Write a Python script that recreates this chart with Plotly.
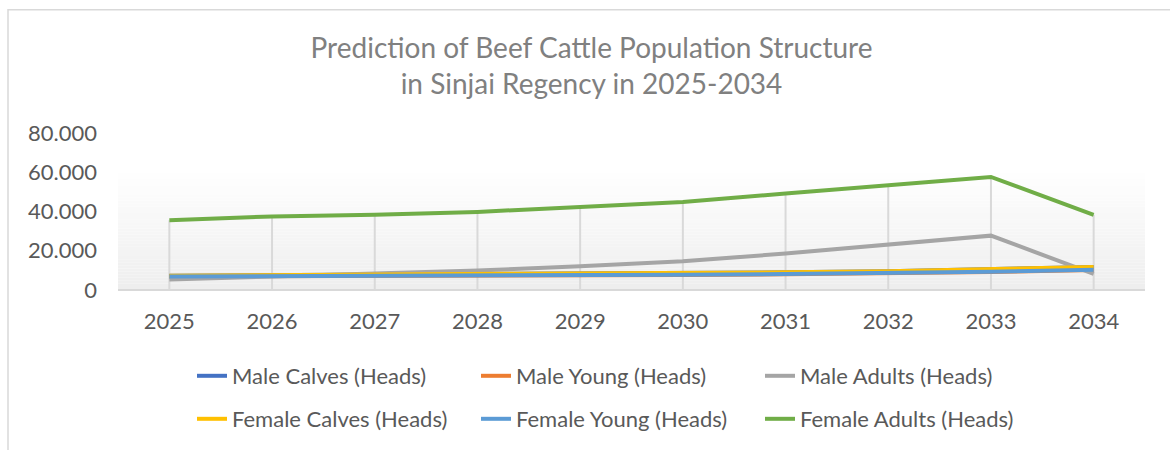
import plotly.graph_objects as go

years = ["2025", "2026", "2027", "2028", "2029", "2030", "2031", "2032", "2033", "2034"]
male_calves = [7300, 7500, 7800, 8000, 8200, 8600, 9000, 9600, 10500, 11700]
male_young = [6800, 6900, 7000, 7200, 7400, 7700, 8000, 8500, 9200, 10200]
male_adults = [5300, 6900, 8200, 9900, 12100, 14600, 18600, 23200, 27700, 8200]
female_calves = [7300, 7500, 7800, 8000, 8200, 8600, 9000, 9600, 10500, 11700]
female_young = [6900, 7000, 7100, 7300, 7500, 7800, 8100, 8600, 9300, 10300]
female_adults = [35500, 37500, 38400, 39800, 42300, 44900, 49200, 53500, 57600, 38300]

series = [
    ("Male Calves (Heads)", male_calves, "#4472C4", "legend"),
    ("Male Young (Heads)", male_young, "#ED7D31", "legend"),
    ("Male Adults (Heads)", male_adults, "#A5A5A5", "legend"),
    ("Female Calves (Heads)", female_calves, "#FFC000", "legend2"),
    ("Female Young (Heads)", female_young, "#5B9BD5", "legend2"),
    ("Female Adults (Heads)", female_adults, "#70AD47", "legend2"),
]

W, H = 1170, 450
ML, MR, MT, MB = 118, 25, 133, 159
PW = W - ML - MR
PH = H - MT - MB


def px_x(x):
    return (x - ML) / PW


def px_y(y):
    return (H - MB - y) / PH


FONT = "Lato"
fig = go.Figure()

# drop lines from highest point to the category axis
all_vals = [s[1] for s in series]
dx, dy = [], []
for i, yr in enumerate(years):
    top = max(v[i] for v in all_vals)
    dx += [yr, yr, None]
    dy += [0, top, None]
fig.add_trace(go.Scatter(x=dx, y=dy, mode="lines", line=dict(color="#D9D9D9", width=2),
                         showlegend=False, hoverinfo="skip"))

for name, vals, color, lg in series:
    fig.add_trace(go.Scatter(x=years, y=vals, name=name, mode="lines",
                             line=dict(color=color, width=4), legend=lg))

shapes = []
# gradient wall
n = 40
top_p = px_y(167)
for k in range(n):
    y0 = top_p * k / n
    y1 = top_p * (k + 1) / n
    t = k / (n - 1)
    c = int(round(0xEE + (0xFF - 0xEE) * t))
    col = f"rgb({c},{c},{c})"
    shapes.append(dict(type="rect", xref="paper", yref="paper", x0=0, x1=1, y0=y0, y1=y1,
                       fillcolor=col, line=dict(width=0), layer="below"))
# floor line
shapes.append(dict(type="line", xref="paper", yref="paper", x0=0, x1=1, y0=0, y1=0,
                   line=dict(color="#D9D9D9", width=2), layer="below"))
# chart border
shapes.append(dict(type="rect", xref="paper", yref="paper", x0=px_x(8), x1=px_x(1200),
                   y0=px_y(470), y1=px_y(9), line=dict(color="#D9D9D9", width=1.5),
                   fillcolor="rgba(0,0,0,0)", layer="below"))

leg_common = dict(orientation="h", xanchor="left", yanchor="middle",
                  entrywidth=239, entrywidthmode="pixels",
                  font=dict(size=22, color="#595959"), bgcolor="rgba(0,0,0,0)")

fig.update_layout(
    width=W, height=H,
    margin=dict(l=ML, r=MR, t=MT, b=MB),
    paper_bgcolor="white", plot_bgcolor="rgba(0,0,0,0)",
    separators=",.",
    font=dict(family=FONT, color="#595959"),
    title=dict(text="Prediction of Beef Cattle Population Structure<br>in Sinjai Regency in 2025-2034",
               x=591.5 / W, xanchor="center", y=1 - 58 / H, yanchor="middle",
               font=dict(family=FONT, size=28, color="#808080")),
    xaxis=dict(type="category", range=[-0.5, 9.5], showgrid=False, showline=False,
               zeroline=False, ticks="", ticklabelstandoff=16,
               tickfont=dict(size=22, color="#595959")),
    yaxis=dict(range=[0, 80000], tickvals=[0, 20000, 40000, 60000, 80000],
               tickformat=",.0f", showgrid=False, zeroline=False, showline=False,
               ticks="", ticklabelstandoff=20, tickfont=dict(size=22, color="#595959")),
    legend=dict(x=px_x(192), y=px_y(376), **leg_common),
    legend2=dict(x=px_x(192), y=px_y(419), **leg_common),
    shapes=shapes,
    showlegend=True,
)

fig.write_html("out.html", config={"displayModeBar": False},
               post_script="document.body.style.margin='0';")
